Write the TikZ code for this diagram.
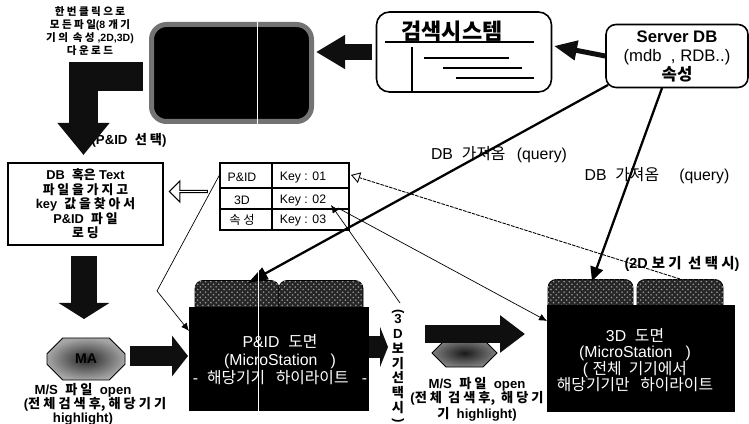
\documentclass[tikz,border=0pt]{standalone}
\usepackage{fontspec}
\setmainfont{Liberation Sans}
\newfontfamily\krfont{Noto Sans CJK KR}
\newcommand{\kr}[1]{{\krfont #1}}
\usepackage{tikz}
\usetikzlibrary{arrows.meta, shapes.misc, shapes.arrows, patterns}

\tikzset{
    blackbox/.style={draw=black!55, line width=1mm, fill=black, rounded corners=3mm},
    tabbox/.style={draw=black, fill=black!85, rounded corners=1.6mm, postaction={pattern=crosshatch dots, pattern color=black!40}},
    bodybox/.style={fill=black, inner sep=0pt},
    whitetext/.style={text=white, align=center, font=\fontsize{9}{#1}\selectfont},
    boldtext/.style={align=center, font=\bfseries\fontsize{7.5}{8}\selectfont},
    octabox/.style={chamfered rectangle, draw=black, line width=0.5pt, inner sep=0pt},
    blockarrow/.style={line width=#1, black!94},
    dbline/.style={line width=1.3pt, -{Triangle[length=#1]}},
    thinline/.style={line width=0.4pt, -{Latex[length=1.6mm,width=1.4mm]}}
}

\begin{document}
\begin{tikzpicture}[x=0.2mm, y=-0.2mm, >=latex]
    \useasboundingbox (0,0) rectangle (749,424);

    % Texts that lie under the arrows
    \node[boldtext, font=\bfseries\fontsize{6}{7.3}\selectfont] (oneclick) at (90,31)
        {\kr{한 번 클 릭 으 로}\\\kr{모 든 파 일}(8 \kr{개 기}\\\kr{기 의 \ 속 성} ,2D,3D)\\\kr{다 운 로 드}};
    \node[boldtext, font=\bfseries\fontsize{7.5}{9}\selectfont] (pidpick) at (129,140) {(P\&ID \ \kr{선 택})};
    \node[font=\fontsize{9}{10}\selectfont] (queryA) at (499,155) {DB \ \kr{가져옴} \ \,(query)};
    \node[font=\fontsize{9}{10}\selectfont] (queryB) at (657,176) {DB \ \kr{가져옴} \ \ \ \,(query)};

    % Top row
    \node[blackbox, minimum width=32mm, minimum height=19.4mm] (result) at (231.5,73) {};
    \node[draw, line width=0.9pt, rounded corners=2.6mm, fill=white, minimum width=35mm, minimum height=16mm] (search) at (464,52) {};
    \node[font=\bfseries\fontsize{12.5}{14}\selectfont] (searchtitle) at (452,31) {\kr{검색시스템}};
    \draw[line width=0.8pt] (385,42) -- (534,42);
    \draw[line width=0.8pt] (412,47) -- (412,93);
    \draw[line width=0.8pt] (424,58) -- (509,58);
    \draw[line width=0.8pt] (443,68) -- (522,68);
    \draw[line width=0.8pt] (456,78) -- (534,78);
    \node[draw, line width=0.9pt, rounded corners=2mm, fill=white, align=center, minimum width=28.4mm, minimum height=12.6mm,
        font=\fontsize{9.5}{10.8}\selectfont] (server) at (677,56)
        {\textbf{Server DB}\\(mdb \ , RDB..)\\\textbf{\kr{속성}}};

    % Left column
    \node[draw, line width=0.7pt, fill=white, boldtext, font=\bfseries\fontsize{7.3}{8.3}\selectfont, minimum width=31mm, minimum height=16.4mm] (loadbox) at (85.5,204)
        {DB \ \kr{혹은} Text\\\kr{파 일 을 가 지 고}\\key \ \kr{값 을 찾 아 서}\\P\&ID \ \kr{파 일}\\\kr{로 딩}};
    \node[octabox, chamfered rectangle xsep=2.4mm, chamfered rectangle ysep=2.2mm, minimum width=15.6mm, minimum height=8.4mm,
        inner color=black!85, outer color=black!35, font=\bfseries\fontsize{8}{9}\selectfont] (openA) at (86,359) {MA};
    \node[boldtext] (openAtext) at (83,404) {M/S \ \kr{파 일} \ open\\\hspace*{4.8mm}(\kr{전 체 검 색 후, 해 당 기 기}\\highlight)};

    % Key table
    \node[draw, line width=1.3pt, minimum width=25.8mm, minimum height=13.4mm] (keytable) at (284.5,196.5) {};
    \draw[line width=0.8pt] (272,163) -- (272,230);
    \foreach \y in {188,209} {
        \draw[line width=0.8pt] (220,\y) -- (349,\y);
    }
    \foreach \y/\name/\key in {177/P\&ID/01, 200/3D/02, 220/\kr{속 성}/03} {
        \node[font=\fontsize{7}{8}\selectfont] (name\key) at (242,\y) {\name};
        \node[font=\fontsize{7}{8}\selectfont] (key\key) at (303,\y) {Key : \key};
    }
    \node[shape=single arrow, shape border rotate=180, draw, line width=0.6pt, fill=white, inner sep=0pt, minimum height=7.6mm, minimum width=4.2mm,
        single arrow head extend=0.9mm, single arrow head indent=0mm] (hollow) at (189,191.5) {};

    % Drawing boxes
    \node[tabbox, minimum width=16.8mm, minimum height=7mm] (pidtabA) at (237,298) {};
    \node[tabbox, minimum width=16.8mm, minimum height=7mm] (pidtabB) at (321,298) {};
    \node[bodybox, minimum width=36mm, minimum height=20.8mm] (pidbox) at (279,359) {};
    \node[whitetext=10.2] (pidtext) at (280,360)
        {P\&ID \ \kr{도면}\\(MicroStation \ \ )\\- \ \kr{해당기기 \ \ 하이라이트} \ \ -};
    \node[octabox, chamfered rectangle xsep=2.4mm, chamfered rectangle ysep=1.6mm, minimum width=13mm, minimum height=5.4mm,
        inner color=black!90, outer color=black!50] (openB) at (464.5,353) {\phantom{MA}};
    \node[boldtext] (openBtext) at (477,399) {M/S \ \kr{파 일} \ open\\(\kr{전 체 \ 검 색 후, \ 해 당 기}\\\kr{기} \ highlight)};
    \node[tabbox, minimum width=17mm, minimum height=7mm] (tdtabA) at (590.5,297) {};
    \node[tabbox, minimum width=17.2mm, minimum height=7mm] (tdtabB) at (680,297) {};
    \node[bodybox, minimum width=37.6mm, minimum height=21.4mm] (tdbox) at (641,358.5) {};
    \node[whitetext=9.4] (tdtext) at (635,360)
        {3D \ \kr{도면}\\(MicroStation \ \ )\\( \kr{전체 \ 기기에서}\\\kr{해당기기만 \ \ 하이라이트}};

    % Labels of the views
    \node[boldtext, font=\bfseries\fontsize{8.2}{9}\selectfont] (view2d) at (682,264) {(2D \kr{보 기 \ 선 택 시})};
    \node[boldtext, font=\bfseries\fontsize{7.5}{8.4}\selectfont] (view3d) at (398,366)
        {\rotatebox{-90}{(}\\[0pt]3\\D\\\kr{보}\\\kr{기}\\\kr{선}\\\kr{택}\\\kr{시}\\[-5pt]\rotatebox{-90}{)}};

    % Ends of the connectors
    \coordinate (sdbOutA) at (608,85);
    \coordinate (sdbOutB) at (662,88);
    \coordinate (pidIn) at (248,283);
    \coordinate (tdIn) at (592,281);
    \coordinate (keyLeft) at (220,174);
    \coordinate (bendPid) at (157,291);
    \coordinate (pidSide) at (189,331);
    \coordinate (keyRight) at (351,175);
    \coordinate (tabTop) at (680,279);
    \coordinate (keyTwo) at (338,208);
    \coordinate (tdSide) at (547,321);
    \coordinate (keyTip) at (331,205);
    \coordinate (viewTop) at (400,303);

    % Thin lines
    \draw[thinline] (keyLeft) -- (bendPid) -- (pidSide);
    \draw[thinline] (keyTwo) -- (tdSide);
    \draw[thinline] (viewTop) -- (keyTip);
    \draw[line width=0.5pt, dash pattern=on 2pt off 0.6pt, -{Triangle[open, length=1.8mm, width=2.2mm]}] (tabTop) -- (keyRight);

    % Query lines
    \draw[dbline=4mm] (sdbOutA) -- (pidIn);
    \draw[dbline=2.8mm] (sdbOutB) -- (tdIn);

    % Block arrows
    \draw[blockarrow=1mm, -{Triangle[length=4.6mm, width=3.8mm]}] (server.west) -- (554,46);
    \draw[blockarrow=3.2mm, -{Triangle[length=5.8mm, width=6.4mm]}] (372,52) -- (316,52);
    \draw[blockarrow=5.8mm, -{Triangle[length=6.4mm, width=10mm]}] (143,77) -| (83.5,155);
    \draw[blockarrow=5.2mm, -{Triangle[length=3.2mm, width=10mm]}] (84,256) -- (84,319);
    \draw[blockarrow=3.8mm, -{Triangle[length=3.2mm, width=8mm]}] (130,356) -- (188,356);
    \draw[blockarrow=4.2mm, -{Triangle[length=1.6mm, width=8mm]}] (pidbox.east |- 0,347) -- (388,347);
    \draw[blockarrow=3.6mm, -{Triangle[length=5mm, width=7.2mm]}] (425,334) -- (525,334);

    % Light lines on the black boxes
    \draw[white, line width=0.4pt] (257,22) -- (257,124);
    \draw[white, line width=0.4pt] (258,265) -- (258,411);
\end{tikzpicture}
\end{document}
